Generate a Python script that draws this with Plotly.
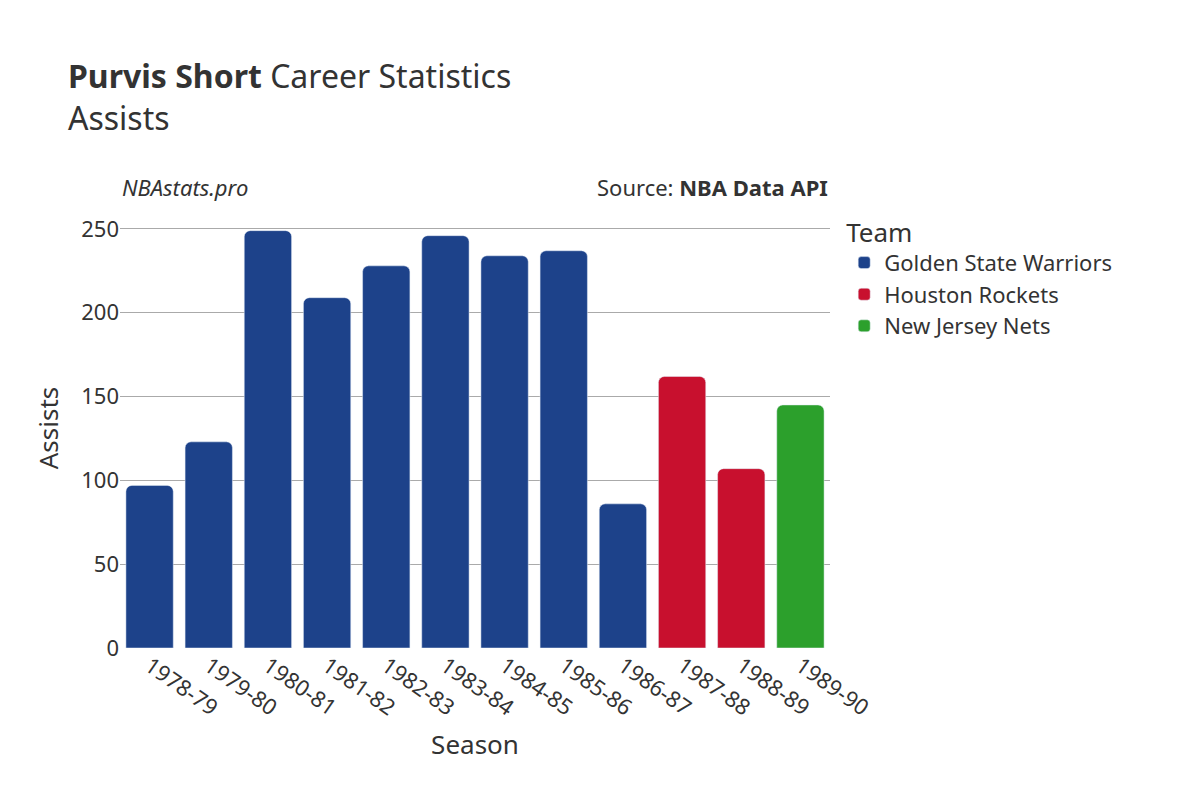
import plotly.graph_objects as go

seasons = ["1978-79", "1979-80", "1980-81", "1981-82", "1982-83", "1983-84",
           "1984-85", "1985-86", "1986-87", "1987-88", "1988-89", "1989-90"]
teams = ["Golden State Warriors"] * 9 + ["Houston Rockets"] * 2 + ["New Jersey Nets"]
assists = [97, 123, 249, 209, 228, 246, 234, 237, 86, 162, 107, 145]

team_colors = {
    "Golden State Warriors": "#1d428a",
    "Houston Rockets": "#c8102e",
    "New Jersey Nets": "#2ca02c",
}

fig = go.Figure()
for team in team_colors:
    xs = [s for s, t in zip(seasons, teams) if t == team]
    ys = [a for a, t in zip(assists, teams) if t == team]
    fig.add_trace(go.Bar(x=xs, y=ys, name=team, marker_color=team_colors[team]))

fig.update_layout(
    width=1200, height=800,
    font=dict(family="Noto Sans", size=22, color="#333"),
    plot_bgcolor="white", paper_bgcolor="white",
    margin=dict(l=112, r=378, t=200, b=160),
    barcornerradius=6,
    bargap=0.2,
    title=dict(text="<b>Purvis Short</b> Career Statistics<br>Assists",
               x=0.05, xanchor="left", y=0.9, font=dict(size=32)),
    legend=dict(title=dict(text="Team"), x=1.02, y=1.0, yanchor="top", font=dict(size=22)),
    xaxis=dict(title="Season", categoryorder="array", categoryarray=seasons, tickangle=35),
    yaxis=dict(title="Assists", range=[0, 262.5], gridcolor="#aaa", tickvals=[0, 50, 100, 150, 200, 250]),
    annotations=[
        dict(text="<i>NBAstats.pro</i>", x=0, y=1.01, xref="paper", yref="paper",
             xanchor="left", yanchor="bottom", showarrow=False, font=dict(size=22)),
        dict(text="Source: <b>NBA Data API</b>", x=1, y=1.01, xref="paper", yref="paper",
             xanchor="right", yanchor="bottom", showarrow=False, font=dict(size=22)),
    ],
)

fig.write_html("out.html")
